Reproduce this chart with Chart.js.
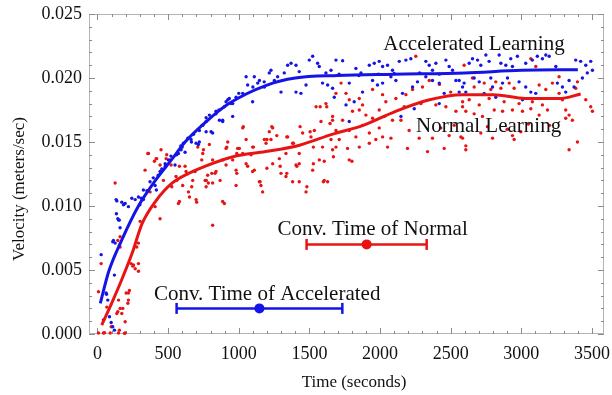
<!DOCTYPE html>
<html>
<head>
<meta charset="utf-8">
<script src="https://cdn.jsdelivr.net/npm/chart.js@4/dist/chart.umd.min.js"></script>
<style>
  html, body { margin: 0; padding: 0; background: #fff; }
  canvas { display: block; }
</style>
</head>
<body>
<canvas id="velocityChart" width="612" height="395"></canvas>
<script>
// measured samples: [time (s), velocity (m/s)]
const acceleratedSamples = [
  [26, 0.0062], [64, 0.0031], [42, 0.0011], [113, 0.0073], [125, 0.0071], [134, 0.0094], [149, 0.0089], [160, 0.0083],
  [137, 0.0104], [172, 0.0103], [196, 0.0102], [219, 0.00995], [184, 0.0101], [243, 0.0106], [267, 0.0105], [290, 0.0107],
  [310, 0.0106], [325, 0.0105], [325, 0.01125], [372, 0.0119], [408, 0.0116], [417, 0.01125], [443, 0.0127], [479, 0.0133],
  [502, 0.0136], [549, 0.0132], [573, 0.0141], [620, 0.0142], [608, 0.0149], [665, 0.0150], [714, 0.0148],
  [61, 0.0032], [73, 0.00265], [85, 0.00135], [108, 0.00057], [120, 0.0003], [97, 0.0009], [120, 0.0046], [108, 0.0072],
  [132, 0.0105], [144, 0.0090], [155, 0.0089], [395, 0.0122], [455, 0.0129], [520, 0.0139], [590, 0.0147],
  [300, 0.0101], [350, 0.0112], [430, 0.0124], [480, 0.0131], [560, 0.0140], [600, 0.0146], [680, 0.0156], [740, 0.0163],
  [860, 0.0175], [1000, 0.0188], [1100, 0.0193], [1180, 0.0197],
  [639, 0.0153], [662, 0.0152], [721, 0.0150], [769, 0.0158], [804, 0.0158], [792, 0.0171], [839, 0.0172], [886, 0.0167],
  [910, 0.01815], [945, 0.0180], [981, 0.0185], [933, 0.0184], [592, 0.0144], [698, 0.0149], [769, 0.0169],
  [721, 0.0159], [745, 0.0163], [769, 0.0166], [815, 0.0157], [839, 0.0174], [863, 0.0167], [886, 0.0166], [898, 0.01775],
  [922, 0.0183], [957, 0.0170], [957, 0.0180], [1028, 0.0188], [1052, 0.0201], [1063, 0.01945], [1098, 0.01815], [1110, 0.0201],
  [1134, 0.0196], [1146, 0.0198], [1181, 0.0193], [1216, 0.0204], [1228, 0.0206], [1252, 0.0198], [1275, 0.0201], [1299, 0.0189],
  [1322, 0.0204], [1346, 0.0210], [1370, 0.02115], [1405, 0.0210], [1405, 0.0189], [1428, 0.0205], [1440, 0.0188], [1476, 0.01945],
  [1499, 0.0214], [1523, 0.0217], [1558, 0.02115], [1570, 0.0209], [1593, 0.0196], [1629, 0.01945], [1617, 0.0204], [1653, 0.0206],
  [1688, 0.0214], [1735, 0.02135], [1829, 0.02075], [1865, 0.0204], [1782, 0.0196], [1664, 0.0192], [1817, 0.01815], [1876, 0.0189],
  [1924, 0.0210], [1959, 0.02115], [1994, 0.0213], [2018, 0.0209], [2053, 0.0210], [1947, 0.0198], [1982, 0.01945], [2018, 0.0196],
  [2077, 0.0201], [2112, 0.0198], [2088, 0.0206], [2136, 0.0213], [2183, 0.0214], [2218, 0.0215], [2159, 0.0188], [2230, 0.0193],
  [2265, 0.0197], [2324, 0.0213], [2348, 0.0210], [2371, 0.0206], [2395, 0.02115], [2324, 0.0201], [2371, 0.0198], [2419, 0.0196],
  [2466, 0.0214], [2489, 0.0209], [2513, 0.0206], [2454, 0.0188], [2537, 0.0198], [2560, 0.0189], [2584, 0.0193], [2419, 0.0180],
  [2242, 0.0176], [2148, 0.0170], [1759, 0.0179], [1676, 0.0185], [1782, 0.0166], [1710, 0.0203], [1850, 0.0202], [1990, 0.0203],
  [2100, 0.02035], [2280, 0.0204], [2420, 0.0203],
  [2631, 0.02115], [2654, 0.0215], [2690, 0.0214], [2713, 0.0210], [2749, 0.0218], [2772, 0.0213], [2843, 0.0218], [2855, 0.02115],
  [2890, 0.0210], [2925, 0.0215], [2937, 0.0209], [2972, 0.0217], [3031, 0.02115], [3078, 0.0214], [3113, 0.0217], [3149, 0.0215],
  [3173, 0.0218], [3197, 0.0217], [3244, 0.0209], [3385, 0.0214], [3420, 0.0213], [3456, 0.0210], [3491, 0.0213], [3503, 0.0206],
  [2595, 0.0196], [2666, 0.0200], [2702, 0.0197], [2784, 0.0200], [2796, 0.0193], [2867, 0.0196], [2902, 0.0200], [2984, 0.0197],
  [3031, 0.0193], [3067, 0.0189], [3102, 0.0188], [2607, 0.0189], [2737, 0.0188], [2819, 0.0185], [3008, 0.0183], [3255, 0.0196],
  [3291, 0.0193], [3314, 0.0189], [3373, 0.0193], [3432, 0.0200], [3467, 0.0204], [3338, 0.0198], [2560, 0.0198]
];

const normalSamples = [
  [7, 0.0033], [7, 0.00008], [42, 0.00008], [90, 0.00008], [149, 0.00008], [196, 0.00008], [66, 0.0021], [149, 0.00265],
  [160, 0.0020], [172, 0.0016], [219, 0.0032], [219, 0.00265], [196, 0.00096], [137, 0.0016], [255, 0.0054], [267, 0.0051],
  [290, 0.0055], [290, 0.0049], [278, 0.0068], [290, 0.0071], [125, 0.0118], [160, 0.0076], [160, 0.0068], [302, 0.0088],
  [361, 0.0141], [337, 0.0128], [372, 0.0111], [443, 0.0090], [408, 0.00995], [419, 0.0137], [443, 0.0132], [467, 0.0120],
  [490, 0.0140], [514, 0.0136], [526, 0.0115], [561, 0.0120], [573, 0.0102], [620, 0.0131], [644, 0.0111], [667, 0.0115],
  [691, 0.0127], [702, 0.0103], [738, 0.0136], [750, 0.0144], [762, 0.0120], [785, 0.0118], [815, 0.0085], [832, 0.01255],
  [26, 0.0055], [144, 0.0073], [155, 0.00695], [238, 0.0055], [250, 0.0053], [179, 0.0020], [203, 0.0032], [215, 0.0024],
  [226, 0.0034], [144, 0.00175], [155, 0.0003], [191, 0.00005], [97, 0.00057], [50, 0.0001],
  [356, 0.0141], [450, 0.0144], [415, 0.0137], [710, 0.0146], [792, 0.0148], [910, 0.0145], [922, 0.0150], [992, 0.0145],
  [403, 0.0135], [486, 0.0137], [521, 0.0132], [580, 0.0131], [556, 0.0123], [627, 0.0127], [674, 0.0120], [603, 0.0116],
  [651, 0.0107], [698, 0.0105], [580, 0.01035], [769, 0.0115], [886, 0.01035],
  [745, 0.0141], [815, 0.0136], [839, 0.0127], [780, 0.0124], [815, 0.0118], [886, 0.0136], [910, 0.0132], [898, 0.0102],
  [981, 0.0116], [1004, 0.0145], [1028, 0.0161], [1052, 0.0152], [1063, 0.0131], [1098, 0.0146], [1087, 0.0140], [1110, 0.0128],
  [1146, 0.0119], [1157, 0.0116], [1181, 0.0152], [1216, 0.0158], [1228, 0.0152], [1240, 0.0161], [1287, 0.0137], [1299, 0.01255],
  [1334, 0.0123], [1346, 0.0154], [1381, 0.0149], [1428, 0.0141], [1405, 0.0132], [1428, 0.0119], [1452, 0.0157], [1476, 0.0111],
  [1511, 0.0154], [1535, 0.0159], [1547, 0.01775], [1582, 0.0166], [1593, 0.0146], [1605, 0.0135], [1617, 0.0180], [1629, 0.0119],
  [1653, 0.0152], [1664, 0.0167], [770, 0.0120],
  [957, 0.0136], [981, 0.0128], [1028, 0.0141], [1052, 0.0133], [1098, 0.0127], [1169, 0.0111], [1193, 0.0149], [1240, 0.0133],
  [1334, 0.0141], [1381, 0.0119], [1428, 0.0133], [1523, 0.0128], [1570, 0.0136], [1605, 0.0120], [1664, 0.0144],
  [1032, 0.0162], [915, 0.0146], [986, 0.0141], [1104, 0.0146], [1199, 0.0152], [1234, 0.0162], [1269, 0.0155], [1340, 0.0154],
  [1387, 0.0149], [1434, 0.0162], [1505, 0.0158], [1528, 0.0146], [1576, 0.01775], [1623, 0.01775], [1646, 0.01645], [1293, 0.0131],
  [1340, 0.01255], [1411, 0.0131], [1482, 0.0115], [1528, 0.0133], [1599, 0.0119], [1670, 0.01385], [1199, 0.01295], [1151, 0.0119],
  [986, 0.01255], [868, 0.0120], [809, 0.01255],
  [2253, 0.0217], [1724, 0.0196], [1688, 0.0188], [1759, 0.0188], [1782, 0.0183], [1853, 0.0184], [1876, 0.0179], [1947, 0.0191],
  [2018, 0.0187], [2041, 0.01815], [2112, 0.0184], [2183, 0.0187], [2171, 0.01775], [2230, 0.0191], [2300, 0.0193], [2348, 0.0198],
  [2395, 0.0179], [2466, 0.01775], [2537, 0.0174], [2584, 0.01775], [1664, 0.0170], [1735, 0.0167], [1805, 0.0174], [1853, 0.0175],
  [1900, 0.0171], [1947, 0.01685], [1994, 0.0175], [2030, 0.0170], [2088, 0.0167], [2148, 0.0167], [2206, 0.0159], [1688, 0.0159],
  [1711, 0.0152], [1782, 0.0159], [1829, 0.0154], [1876, 0.0163], [1924, 0.0157], [1994, 0.0161], [2018, 0.0154], [2077, 0.0153],
  [1970, 0.0152], [1853, 0.0146], [1770, 0.0145], [1688, 0.0146], [1782, 0.0136], [1924, 0.0149], [2053, 0.0146], [2194, 0.0145],
  [2336, 0.01425], [2454, 0.0145], [2277, 0.0153], [2371, 0.0153], [2430, 0.0161], [2489, 0.0155], [2525, 0.0163], [2572, 0.0154],
  [2607, 0.0144], [1801, 0.0135], [2290, 0.0180], [2420, 0.0195], [2500, 0.0189],
  [2595, 0.0210], [2654, 0.0200], [2666, 0.0193], [2737, 0.0196], [2784, 0.0191], [2819, 0.0197], [2855, 0.0192], [2914, 0.0196],
  [2949, 0.0192], [3067, 0.0215], [3102, 0.0209], [3126, 0.01945], [3173, 0.0191], [3220, 0.0196], [3267, 0.0201], [3267, 0.0188],
  [3385, 0.0192], [3397, 0.0197], [2584, 0.01815], [2631, 0.0183], [2702, 0.0179], [2772, 0.0184], [2878, 0.01815], [2984, 0.0180],
  [3078, 0.01815], [3149, 0.0179], [3291, 0.0183], [3456, 0.0183], [3491, 0.01775], [3503, 0.0174], [2607, 0.0174], [2666, 0.0172],
  [2725, 0.0170], [2808, 0.0175], [2867, 0.0174], [2937, 0.0175], [3008, 0.0174], [3067, 0.0176], [3126, 0.0171], [3185, 0.0175],
  [3314, 0.0175], [3314, 0.01685], [3338, 0.0171], [3361, 0.0167], [2584, 0.0153], [2607, 0.0147], [2713, 0.0157], [2796, 0.0153],
  [2937, 0.0155], [2949, 0.0152], [2996, 0.0158], [3338, 0.0144], [3397, 0.0150], [2760, 0.0162], [2900, 0.0160], [3050, 0.0164],
  [3200, 0.0163]
];

// fitted curves
const accelFitTime = [20, 80, 170, 290, 410, 530, 620, 750, 930, 1200, 1400, 1700, 2100, 2600, 3000, 3400];
const accelFitVel = [0.0024, 0.0049, 0.0073, 0.0100, 0.0120, 0.0137, 0.0150, 0.0164, 0.0180, 0.01945, 0.0200, 0.0202, 0.0203, 0.0204, 0.0206, 0.02065];
const normalFitTime = [30, 100, 170, 245, 315, 410, 530, 645, 760, 960, 1190, 1430, 1660, 1880, 2110, 2350, 2580, 2800, 3030, 3270, 3420];
const normalFitVel = [0.0007, 0.0024, 0.0042, 0.0063, 0.0086, 0.01035, 0.0118, 0.01255, 0.0131, 0.01385, 0.01425, 0.01475, 0.0156, 0.0163, 0.0174, 0.0183, 0.0187, 0.0187, 0.0184, 0.0184, 0.01875];

// convergence time: [low, mean, high] in seconds, drawn at a velocity
const convNormal = [1480, 1905, 2330];
const convNormalVel = 0.0070;
const convAccel = [560, 1146, 1733];
const convAccelVel = 0.0020;

const xTickValues = [0, 500, 1000, 1500, 2000, 2500, 3000, 3500];
const yTickValues = [0, 0.005, 0.010, 0.015, 0.020, 0.025];

const BLUE = '#1414e6';
const RED = '#e81414';
const SERIF = "'Liberation Serif', 'Times New Roman', serif";

function toPoints(pairs) {
    return pairs.map(p => ({ x: p[0], y: p[1] }));
}

function zipPoints(xs, ys) {
    return xs.map((x, i) => ({ x: x, y: ys[i] }));
}

const frameTicks = {
    id: 'frameTicks',
    beforeDatasetsDraw(chart) {
        const { ctx, chartArea: a, scales: { x, y } } = chart;
        ctx.save();
        ctx.strokeStyle = '#b4b4b4';
        ctx.lineWidth = 1;
        ctx.strokeRect(a.left + 0.5, a.top + 0.5, a.right - a.left - 1, a.bottom - a.top - 1);
        ctx.strokeStyle = '#8c8c8c';
        ctx.beginPath();
        for (let t = 0; t <= 3500; t += 100) {
            const px = Math.round(x.getPixelForValue(t)) + 0.5;
            const len = t % 500 === 0 ? 6 : 3;
            ctx.moveTo(px, a.bottom); ctx.lineTo(px, a.bottom - len);
            ctx.moveTo(px, a.top); ctx.lineTo(px, a.top + len);
        }
        for (let i = 0; i <= 25; i++) {
            const py = Math.round(y.getPixelForValue(i / 1000)) + 0.5;
            const len = i % 5 === 0 ? 6 : 3;
            ctx.moveTo(a.left, py); ctx.lineTo(a.left + len, py);
            ctx.moveTo(a.right, py); ctx.lineTo(a.right - len, py);
        }
        ctx.stroke();
        ctx.restore();
    }
};

const labels = {
    id: 'labels',
    afterDatasetsDraw(chart) {
        const { ctx, scales: { x, y } } = chart;
        ctx.save();
        ctx.fillStyle = '#111';
        ctx.textAlign = 'center';
        ctx.textBaseline = 'alphabetic';
        ctx.font = '21px ' + SERIF;
        ctx.fillText('Accelerated Learning', x.getPixelForValue(2665), y.getPixelForValue(0.02219));
        ctx.fillText('Normal Learning', x.getPixelForValue(2768), y.getPixelForValue(0.01578));
        ctx.fillText('Conv. Time of Normal', x.getPixelForValue(1947), y.getPixelForValue(0.00773));
        ctx.fillText('Conv. Time of Accelerated', x.getPixelForValue(1201), y.getPixelForValue(0.00266));

        ctx.font = '17px ' + SERIF;
        ctx.fillText('Time (seconds)', 354, 387);
        ctx.translate(24, 189);
        ctx.rotate(-Math.PI / 2);
        ctx.fillText('Velocity (meters/sec)', 0, 0);
        ctx.restore();
    }
};

function errorBar(range, vel, color) {
    return {
        type: 'line',
        data: [{ x: range[0], y: vel }, { x: range[2], y: vel }],
        borderColor: color,
        borderWidth: 2.5,
        pointStyle: 'line',
        rotation: 90,
        pointRadius: 5.5,
        pointBorderColor: color,
        pointBorderWidth: 2.5,
        clip: false
    };
}

function meanDot(range, vel, color) {
    return {
        type: 'scatter',
        data: [{ x: range[1], y: vel }],
        pointRadius: 5,
        pointBackgroundColor: color,
        pointBorderWidth: 0,
        clip: false
    };
}

new Chart(document.getElementById('velocityChart'), {
    type: 'scatter',
    data: {
        datasets: [
            meanDot(convNormal, convNormalVel, RED),
            meanDot(convAccel, convAccelVel, BLUE),
            errorBar(convNormal, convNormalVel, RED),
            errorBar(convAccel, convAccelVel, BLUE),
            {
                type: 'line',
                data: zipPoints(accelFitTime, accelFitVel),
                borderColor: BLUE,
                borderWidth: 3,
                pointRadius: 0,
                cubicInterpolationMode: 'monotone'
            },
            {
                type: 'line',
                data: zipPoints(normalFitTime, normalFitVel),
                borderColor: RED,
                borderWidth: 3,
                pointRadius: 0,
                cubicInterpolationMode: 'monotone'
            },
            {
                data: toPoints(acceleratedSamples),
                pointRadius: 1.7,
                pointBackgroundColor: BLUE,
                pointBorderWidth: 0,
                clip: false
            },
            {
                data: toPoints(normalSamples),
                pointRadius: 1.7,
                pointBackgroundColor: RED,
                pointBorderWidth: 0,
                clip: false
            }
        ]
    },
    options: {
        responsive: false,
        animation: false,
        devicePixelRatio: 1,
        layout: { padding: { top: 14, right: 8, left: 0, bottom: 0 } },
        plugins: { legend: { display: false }, tooltip: { enabled: false } },
        scales: {
            x: {
                type: 'linear',
                min: -60,
                max: 3585,
                grid: { display: false, drawTicks: false },
                border: { display: false },
                afterBuildTicks: s => { s.ticks = xTickValues.map(v => ({ value: v })); },
                afterFit: s => {
                    s.height = 61;
                    s.paddingLeft = 0;
                    s.paddingRight = 0;
                },
                ticks: {
                    padding: 9,
                    color: '#111',
                    maxRotation: 0,
                    autoSkip: false,
                    font: { family: SERIF, size: 18 },
                    callback: v => String(v)
                }
            },
            y: {
                type: 'linear',
                min: 0,
                max: 0.025,
                grid: { display: false, drawTicks: false },
                border: { display: false },
                afterBuildTicks: s => { s.ticks = yTickValues.map(v => ({ value: v })); },
                afterFit: s => {
                    s.width = 89;
                    s.paddingTop = 0;
                    s.paddingBottom = 0;
                },
                ticks: {
                    padding: 7,
                    color: '#111',
                    autoSkip: false,
                    font: { family: SERIF, size: 18 },
                    callback: v => v.toFixed(3)
                }
            }
        }
    },
    plugins: [frameTicks, labels]
});
</script>
</body>
</html>
